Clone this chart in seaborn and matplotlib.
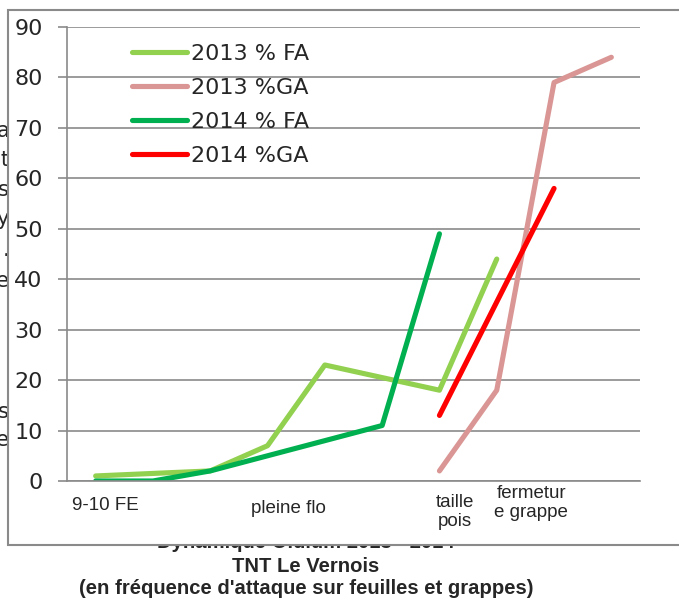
import matplotlib
matplotlib.use("Agg")
import matplotlib.pyplot as plt
from matplotlib.patches import Rectangle
import pandas as pd
import seaborn as sns

# stage labels on the x axis (category units, as placed in the original)
stages = ["9-10 FE", "pleine flo", "taille\npois", "fermetur\ne grappe"]
stage_pos = [0.17, 3.36, 6.27, 7.6]

# series: category index and % attack
fa_2013_x = [0, 2, 3, 4, 6, 7]
fa_2013 = [1, 2, 7, 23, 18, 44]
ga_2013_x = [6, 7, 8, 9]
ga_2013 = [2, 18, 79, 84]
fa_2014_x = [0, 1, 2, 5, 6]
fa_2014 = [0, 0, 2, 11, 49]
ga_2014_x = [6, 8]
ga_2014 = [13, 58]

series_names = ["2013 % FA", "2013 %GA", "2014 % FA", "2014 %GA"]
colors = ["#92D050", "#D99694", "#00B050", "#FF0000"]

title_lines = ["Dynamique Oïdium 2013 - 2014", "TNT Le Vernois",
               "(en fréquence d'attaque sur feuilles et grappes)"]
side_letters = ["a", "t", "s", "y", ".", "e", "s", "e"]

rows = []
for name, xs, ys in zip(series_names,
                        [fa_2013_x, ga_2013_x, fa_2014_x, ga_2014_x],
                        [fa_2013, ga_2013, fa_2014, ga_2014]):
    for x, y in zip(xs, ys):
        rows.append({"series": name, "x": x, "y": y})
df = pd.DataFrame(rows)

sns.set_style("white")
plt.rcParams["font.family"] = ["DejaVu Sans"]

W, H = 679, 604
fig = plt.figure(figsize=(W / 100, H / 100), dpi=100)

# strip below the chart box for the title, clipped at the box edge
tax = fig.add_axes([0, 0, 1, (H - 546) / H])
tax.set_xlim(0, W)
tax.set_ylim(H, 546)
tax.axis("off")
for line, base in zip(title_lines, [547.5, 571.5, 594.5]):
    tax.text(306, base, line, ha="center", va="baseline", fontsize=14.6,
             fontweight="bold", family="Liberation Sans", clip_on=True)

ax = fig.add_axes([67 / W, 1 - 481 / H, (640 - 67) / W, (481 - 27) / H])
ax.set_zorder(2)

sns.lineplot(data=df, x="x", y="y", hue="series", hue_order=series_names,
             palette=colors, estimator=None, sort=False, linewidth=3.7,
             solid_capstyle="round", ax=ax)

ax.set_xlim(-0.5, 9.5)
ax.set_ylim(0, 90)
ax.set_yticks(range(0, 91, 10))
ax.set_xticks([])
ax.set_xlabel("")
ax.set_ylabel("")
grey = "#8a8a8a"
ax.grid(axis="y", color=grey, linewidth=1.2)
ax.set_axisbelow(True)
for s in ["top", "right"]:
    ax.spines[s].set_visible(False)
for s in ["left", "bottom"]:
    ax.spines[s].set_color(grey)
    ax.spines[s].set_linewidth(1.2)
ax.tick_params(axis="y", length=6.5, width=1.2, color=grey, pad=11,
               labelsize=16, left=True)

# stage labels, staggered like the original
tops = [497, 500, 494, 485]
for lab, pos, top in zip(stages, stage_pos, tops):
    ax.text(pos, (481 - top) / 454, lab, transform=ax.get_xaxis_transform(),
            ha="center", va="top", fontsize=13.5, family="Liberation Sans",
            multialignment="center", linespacing=1.15)

handles, labels = ax.get_legend_handles_labels()
ax.legend(handles, labels, loc="upper left", bbox_to_anchor=(0.113, 0.962),
          frameon=False, fontsize=16, handlelength=2.5, handletextpad=0.18,
          labelspacing=0.63, borderpad=0, borderaxespad=0)

# chart area box
fig.patches.append(Rectangle((8 / W, 1 - 545 / H), 1.0, (545 - 10) / H,
                             transform=fig.transFigure, facecolor="white",
                             edgecolor=grey, linewidth=1.5, zorder=1))

for letter, yc in zip(side_letters, [131, 160, 190, 219, 250, 281, 412, 440]):
    fig.text(9 / W, 1 - yc / H, letter, ha="right", va="center", fontsize=15,
             zorder=0.5)

fig.savefig("out.png", dpi=100)
